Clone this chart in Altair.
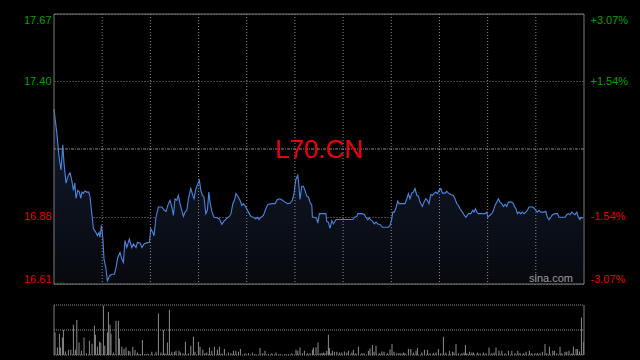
import altair as alt
import pandas as pd

prev_close = 17.14
session_len = 265
n_sections = 11
symbol = "L70.CN"
watermark = "sina.com"
pct_ticks = [3.07, 1.54, -1.54, -3.07]
vol_ticks = [0, 2500, 5000]

price_t = [
    0, 1.4, 2.7, 3.5, 4.4, 5, 6, 7.2, 8, 8.9,
    9.7, 10.4, 11, 11.9, 12.7, 13.4, 14, 14.7, 15.4, 16.4,
    17.4, 18, 18.9, 19.7, 20.9, 21.7, 22.5, 23, 23.7, 24.4,
    25, 25.9, 26.7, 27.7, 28.9, 30.2, 31, 31.9, 33, 33.9,
    34.7, 35.5, 36.4, 37.7, 38.9, 39.7, 41, 41.7, 43, 44,
    45, 46.4, 47.7, 48.4, 49.4, 50, 51, 52.2, 53.9, 55.2,
    56, 57.2, 58, 58.9, 59.7, 60.5, 61.4, 62.2, 63, 63.9,
    64.7, 65.5, 66.4, 67.2, 68.4, 69.4, 70, 71, 71.9, 72.7,
    73.4, 74.2, 75, 75.9, 76.7, 77.4, 78, 79, 80, 81.4,
    82.7, 83.9, 85, 86.4, 87.7,
    88.5, 89.4, 90.2, 91, 91.9, 93, 93.9, 94.7, 95.9, 97.2,
    98.5, 99.7, 100.9, 101.7, 102.5, 103.5, 104.7, 105.9, 106.9, 108.9,
    110.5, 111.7, 113, 114.2, 115.5, 116.9, 118, 119.2, 120, 120.9,
    121.9, 122.5, 123, 123.9, 124.7, 125.5, 126.4, 127.2, 128, 128.9,
    129.2, 130.5, 131.4, 131.9, 132.7, 134.7, 135.9, 136.4, 137.2, 138,
    138.9, 139.7, 141, 143, 145.5, 148, 149.4, 150.2, 151.4, 151.9,
    153.9, 155.2, 155.9, 156.9, 157.5, 158.4, 159.2, 160.2, 161, 161.9,
    163, 164.2, 165.5, 167.2, 168, 168.9, 169.4, 170.2, 171, 171.9,
    172.5, 173.9, 175.5,
    176.4, 177.2, 178, 178.9, 179.7, 180.5, 181.4, 182.2, 183, 184.2,
    185, 185.9, 186.7, 187.5, 188.4, 189.2, 190, 190.9, 191.7, 192.5,
    193.4, 194.2, 195.5, 196.4, 197.2, 198.4, 199.7, 200.5, 201.4, 202.2,
    203, 204.2, 205.2, 206, 207.2, 208.4, 209.4, 210, 210.7, 211.4,
    212.2, 213.9, 215.5, 216.4, 216.9, 217.7, 218.9, 219.7, 220.5, 221.4,
    222.2, 223, 223.9, 224.7, 225.5, 226.4, 227.2, 228.9, 229.7, 230.2,
    231, 231.7, 232.5, 233.4, 234.2, 235, 235.9, 236.7, 237.5, 239.2,
    240, 240.9, 241.7, 242.5, 243.4, 244.2, 245, 245.9, 246.7, 247.5,
    248.4, 249.2, 250.5, 251.7, 252.5, 253.9, 255.5, 256.4, 257.2, 258,
    258.9, 259.7, 260.5, 261.4, 262.2, 263, 263.5, 264.4,
]

price_v = [
    17.296, 17.203, 17.097, 17.058, 17.156, 17.085, 17.007, 17.038, 17.047, 17.018,
    16.979, 17.007, 16.948, 16.979, 16.972, 16.948, 16.972, 16.967, 16.976, 16.972,
    16.972, 16.953, 16.889, 16.830, 16.815, 16.802, 16.815, 16.796, 16.842, 16.796,
    16.711, 16.678, 16.626, 16.645, 16.652, 16.652, 16.678, 16.717, 16.737, 16.711,
    16.698, 16.783, 16.756, 16.789, 16.756, 16.770, 16.756, 16.776, 16.774, 16.756,
    16.770, 16.774, 16.776, 16.829, 16.815, 16.802, 16.874, 16.914, 16.914, 16.901,
    16.897, 16.927, 16.940, 16.914, 16.881, 16.946, 16.940, 16.959, 16.927, 16.901,
    16.877, 16.894, 16.901, 16.946, 16.986, 16.959, 16.946, 16.986, 17.005, 17.018,
    16.979, 16.959, 16.953, 16.888, 16.901, 16.972, 16.933, 16.894, 16.874, 16.872,
    16.868, 16.846, 16.859, 16.870, 16.877,
    16.888, 16.927, 16.940, 16.966, 16.956, 16.940, 16.920, 16.927, 16.914, 16.894,
    16.877, 16.874, 16.868, 16.874, 16.865, 16.874, 16.881, 16.907, 16.924, 16.927,
    16.927, 16.943, 16.946, 16.940, 16.933, 16.927, 16.929, 16.940, 16.966, 17.021,
    17.038, 16.992, 16.943, 16.995, 16.995, 16.979, 16.956, 16.953, 16.933, 16.920,
    16.874, 16.874, 16.868, 16.851, 16.888, 16.888, 16.888, 16.857, 16.855, 16.831,
    16.861, 16.848, 16.865, 16.865, 16.865, 16.865, 16.865, 16.874, 16.877, 16.888,
    16.888, 16.885, 16.874, 16.864, 16.872, 16.864, 16.859, 16.848, 16.855, 16.848,
    16.846, 16.835, 16.835, 16.835, 16.842, 16.868, 16.894, 16.894, 16.911, 16.937,
    16.927, 16.927, 16.927,
    16.946, 16.966, 16.946, 16.968, 16.972, 16.986, 16.959, 16.956, 16.933, 16.916,
    16.933, 16.946, 16.940, 16.927, 16.963, 16.959, 16.966, 16.972, 16.966, 16.979,
    16.986, 16.968, 16.968, 16.975, 16.968, 16.963, 16.959, 16.946, 16.927, 16.920,
    16.907, 16.894, 16.881, 16.874, 16.888, 16.888, 16.901, 16.894, 16.907, 16.894,
    16.888, 16.888, 16.888, 16.894, 16.874, 16.881, 16.888, 16.901, 16.920, 16.933,
    16.946, 16.933, 16.927, 16.916, 16.924, 16.916, 16.933, 16.933, 16.927, 16.916,
    16.907, 16.888, 16.894, 16.888, 16.894, 16.888, 16.894, 16.901, 16.914, 16.914,
    16.910, 16.901, 16.894, 16.901, 16.894, 16.894, 16.894, 16.897, 16.874, 16.864,
    16.874, 16.884, 16.888, 16.888, 16.874, 16.874, 16.874, 16.884, 16.888, 16.884,
    16.894, 16.888, 16.884, 16.894, 16.874, 16.865, 16.874, 16.870,
]

vol_t = [
    0.5, 1.7, 2.7, 3.2, 4.2, 4.7, 5.7, 7.2, 8.4, 9.7,
    10.7, 11.4, 12.5, 13.7, 15, 16.2, 17.7, 19, 20.2, 20.7,
    21.7, 22.7, 23.4, 24.7, 25.4, 26.7, 27.2, 28, 28.5, 29.7,
    31, 32.2, 32.7, 33.9, 35, 36, 37.2, 38, 39.4, 40.5,
    41.7, 43, 44.2, 45.5, 47, 48.9, 51, 52.2, 53.5, 54.7,
    55.5, 56.7, 57.7, 58.9, 60.2, 61, 62.5, 63.2, 64.5, 65.7,
    67.2, 68.4, 69.7, 70.5, 72.2, 73, 74.4, 75.5, 76.4, 77.7,
    78.9, 80.2, 81.7, 82.7, 84, 85.2, 87.2, 88.5, 89.7, 90.9,
    92.2, 93.2, 95.5, 97.2, 99.2, 100.5, 103, 104.4, 105.5, 107.2,
    108.9, 111, 113, 115.5, 117.2, 118.9, 121, 121.9, 123, 124.2,
    125.2, 126.7, 128, 129.2, 129.7, 131, 132, 133, 133.9, 134.7,
    135.5, 136.4, 137.2, 137.7, 138.5, 139.2, 140.2, 141.4, 142.7, 143.9,
    145.2, 146.4, 147.2, 148.9, 149.7, 150.9, 152.2, 153.9, 155, 157.2,
    158, 159.2, 160, 161, 162.7, 163.9, 165, 166.7, 168, 169,
    170, 171.4, 172.5, 173.5, 174.7, 175.5, 177.2, 178.4, 179.7, 181,
    181.7, 183.9, 185.2, 186.7, 188, 189.7, 191, 192.2, 193.4, 194.7,
    195.9, 197.7, 199.2, 200, 201, 202.2, 203.9, 205, 205.7, 206.4,
    207.7, 208.9, 209.7, 211.7, 213, 214.7, 216, 217.5, 218.9, 220,
    221, 222.5, 223.9, 225.5, 227.2, 228.9, 230.5, 231.9, 233, 234.7,
    236, 237.7, 238.9, 240.5, 241.7, 243, 244.2, 245.5, 246.4, 247.7,
    249.4, 250.2, 251.4, 253, 253.9, 255.5, 256.4, 257.5, 258.9, 259.7,
    261, 261.7, 262.7, 263.7, 264.7,
]

vol_v = [
    2260, 760, 2130, 760, 1760, 2500, 360, 530, 530, 3030,
    530, 3500, 1260, 430, 1760, 170, 1430, 1130, 2930, 2030,
    830, 1330, 1230, 4930, 930, 2260, 4330, 3030, 2130, 260,
    3430, 3430, 1660, 830, 600, 760, 430, 360, 830, 500,
    260, 100, 1500, 100, 100, 330, 330, 4160, 260, 2500,
    170, 1260, 4530, 330, 330, 430, 430, 260, 170, 1330,
    170, 930, 1830, 330, 1330, 830, 530, 170, 260, 760,
    430, 830, 530, 830, 170, 600, 260, 170, 430, 430,
    330, 600, 170, 170, 260, 100, 700, 170, 430, 100,
    170, 260, 100, 100, 100, 170, 530, 430, 760, 170,
    430, 170, 170, 530, 760, 760, 1260, 170, 170, 260,
    170, 430, 2030, 700, 170, 430, 330, 330, 260, 260,
    360, 260, 430, 260, 500, 170, 830, 170, 170, 430,
    660, 1000, 330, 930, 170, 360, 330, 170, 560, 1100,
    330, 170, 200, 170, 260, 170, 600, 600, 260, 430,
    700, 260, 530, 530, 170, 170, 260, 600, 170, 1830,
    260, 430, 330, 260, 1100, 170, 170, 260, 1000, 170,
    330, 260, 260, 260, 170, 260, 170, 760, 170, 260,
    760, 430, 430, 170, 430, 430, 170, 430, 170, 170,
    330, 430, 170, 170, 170, 170, 330, 1100, 170, 860,
    430, 430, 170, 830, 170, 330, 330, 430, 170, 860,
    600, 600, 360, 3760, 1330,
]

price_df = pd.DataFrame({"t": price_t, "price": price_v})
vol_df = pd.DataFrame({"t": vol_t, "vol": vol_v})
vgrid_df = pd.DataFrame({"t": [session_len * k / n_sections for k in range(1, n_sections)]})
volgrid_df = pd.DataFrame({"vol": vol_ticks})

FONT = "Liberation Sans"
GRID = "#8a8a8a"
BORDER = "#7a7a7a"
UP = "#00a000"
DOWN = "#e00000"
label_color = {"condition": {"test": "datum.value > 0", "value": UP}, "value": DOWN}

W = 530
PRICE_H = 270
VOL_TOP = 291
TOTAL_H = 341

x_scale = alt.Scale(domain=[0, session_len], nice=False, zero=False, padding=0)
y_scale = alt.Scale(domain=[pct_ticks[-1], pct_ticks[0]], range=[PRICE_H, 0],
                    nice=False, zero=False)
v_scale = alt.Scale(domain=[vol_ticks[0], vol_ticks[-1]], range=[TOTAL_H, VOL_TOP],
                    nice=False, zero=False)
x_plain = alt.X("t:Q", scale=x_scale, axis=None)

base = alt.Chart(price_df).transform_calculate(
    pct=f"(datum.price / {prev_close} - 1) * 100"
)

gradient = alt.Gradient(
    gradient="linear",
    stops=[alt.GradientStop(color="#121b2e", offset=0),
           alt.GradientStop(color="#07090e", offset=1)],
    x1=1, x2=1, y1=0, y2=1,
)

area = base.mark_area(color=gradient).encode(
    x=x_plain,
    y=alt.Y("pct:Q", scale=y_scale,
            axis=alt.Axis(orient="left", values=pct_ticks, grid=True, gridDash=[1, 2],
                          gridColor=GRID,
                          labelExpr=f"format({prev_close} * (1 + datum.value / 100), '.2f')",
                          labelColor=label_color, labelFont=FONT, labelFontSize=11,
                          labelPadding=3, labelFlush=True, ticks=False, domain=False,
                          title=None)),
    y2=alt.datum(pct_ticks[-1]),
)

vgrid = alt.Chart(vgrid_df).mark_rule(color=GRID, strokeDash=[1, 2]).encode(
    x=x_plain, y=alt.value(0), y2=alt.value(PRICE_H)
)

line = base.mark_line(color="#4a86e0", strokeWidth=1.1).encode(
    x=x_plain,
    y=alt.Y("pct:Q", scale=y_scale, axis=None),
)

right_axis = base.mark_line(opacity=0).encode(
    x=x_plain,
    y=alt.Y("pct:Q", scale=y_scale,
            axis=alt.Axis(orient="right", values=pct_ticks, grid=False,
                          labelExpr="(datum.value > 0 ? '+' : '-') + format(abs(datum.value), '.2f') + '%'",
                          labelColor=label_color, labelFont=FONT, labelFontSize=11,
                          labelPadding=6, labelFlush=True, ticks=False, domain=False,
                          title=None)),
)

mid_rule = alt.Chart(pd.DataFrame({"pct": [0]})).mark_rule(
    color=GRID, strokeDash=[3, 1, 1, 1], strokeWidth=1
).encode(y=alt.Y("pct:Q", scale=y_scale, axis=None))

price_box = alt.Chart(pd.DataFrame({"v": [0]})).mark_rect(
    fillOpacity=0, stroke=BORDER, strokeWidth=1
).encode(x=alt.value(0), x2=alt.value(W), y=alt.value(0), y2=alt.value(PRICE_H))

title_text = alt.Chart(pd.DataFrame({"label": [symbol]})).mark_text(
    color="#e8000b", fontSize=26, font=FONT, align="center", baseline="alphabetic"
).encode(x=alt.value(265), y=alt.value(144), text="label:N")

wm_text = alt.Chart(pd.DataFrame({"label": [watermark]})).mark_text(
    color="#9a9a9a", fontSize=11, font=FONT, align="right", baseline="alphabetic"
).encode(x=alt.value(519), y=alt.value(268), text="label:N")

vol_grid = alt.Chart(volgrid_df).mark_rule(color=GRID, strokeDash=[1, 1]).encode(
    y=alt.Y("vol:Q", scale=v_scale, axis=None), x=alt.value(0), x2=alt.value(W)
)

bars = alt.Chart(vol_df).mark_bar(width=1, color="#8c8c8c").encode(
    x=x_plain,
    y=alt.Y("vol:Q", scale=v_scale, axis=None),
)

vol_left = alt.Chart(pd.DataFrame({"v": [0]})).mark_rule(color=BORDER).encode(
    x=alt.value(0), y=alt.value(VOL_TOP), y2=alt.value(TOTAL_H)
)
vol_right = alt.Chart(pd.DataFrame({"v": [0]})).mark_rule(color=BORDER).encode(
    x=alt.value(W), y=alt.value(VOL_TOP), y2=alt.value(TOTAL_H)
)

chart = alt.layer(
    area, vgrid, mid_rule, line, right_axis, price_box, title_text, wm_text,
    vol_grid, bars, vol_left, vol_right,
).resolve_scale(y="independent").resolve_axis(y="independent").properties(
    width=W, height=TOTAL_H,
    background="black",
    padding={"left": 54, "top": 14, "right": 56, "bottom": 5},
    autosize=alt.AutoSizeParams(type="none"),
).configure_view(stroke="transparent")

chart.save("out.html", embed_options={"renderer": "svg", "actions": False})
